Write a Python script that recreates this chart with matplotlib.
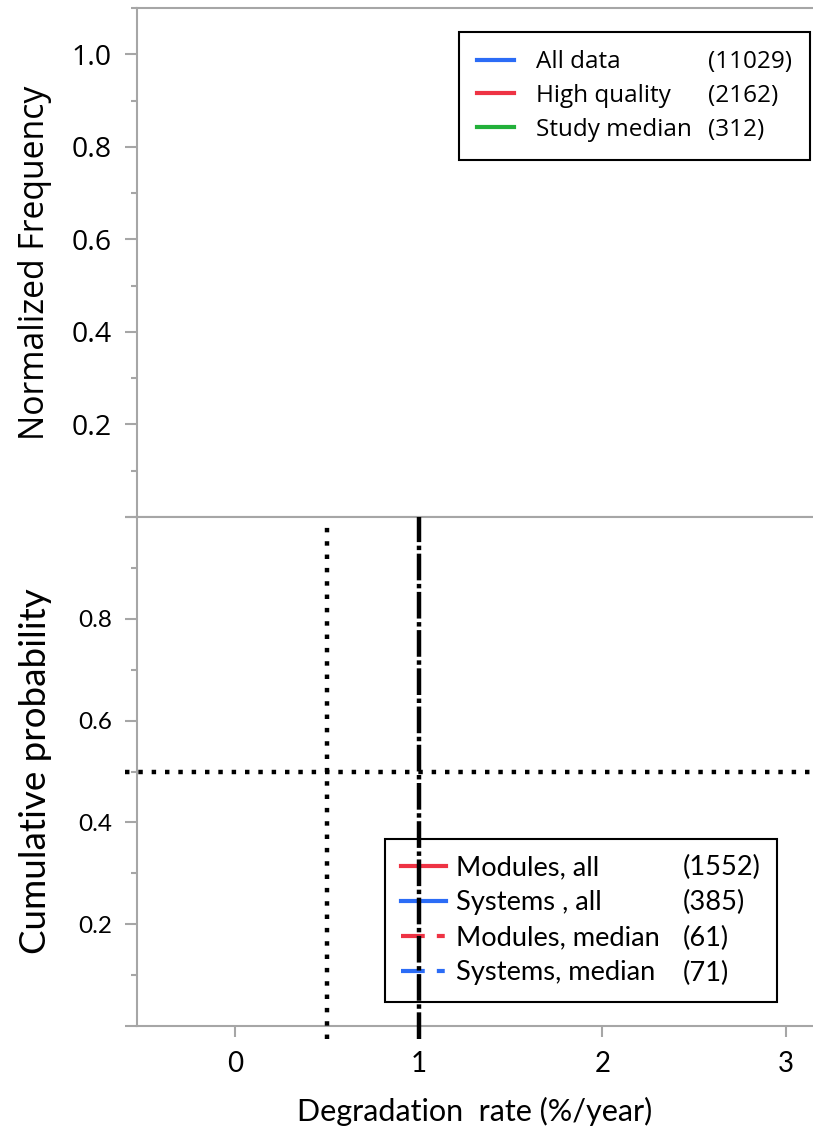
import matplotlib
matplotlib.use('Agg')
import matplotlib.pyplot as plt
from matplotlib.lines import Line2D

# legend entries of the two panels (no curves are drawn in the figure)
freq_labels = ['All data', 'High quality', 'Study median']
freq_counts = [11029, 2162, 312]
freq_colors = ['#2b6cf6', '#ee3344', '#22b03a']

cdf_labels = ['Modules, all', 'Systems , all', 'Modules, median', 'Systems, median']
cdf_counts = [1552, 385, 61, 71]
cdf_colors = ['#ee3344', '#2b6cf6', '#ee3344', '#2b6cf6']
cdf_dashed = [False, False, True, True]

# reference lines in the lower panel
median_rate = 0.5       # dotted vertical
mean_rate = 1.0         # dash-dot vertical
median_prob = 0.5       # dotted horizontal

xticks = [0, 1, 2, 3]
freq_yticks = [0, 0.2, 0.4, 0.6, 0.8, 1.0]
freq_yticklabels = ['', '0.2', '0.4', '0.6', '0.8', '1.0']
cdf_yticks = [0, 0.2, 0.4, 0.6, 0.8, 1.0]
cdf_yticklabels = ['', '0.2', '0.4', '0.6', '0.8', '']

gray = '#a6a6a6'
top_font = ['Open Sans', 'DejaVu Sans']
bot_font = ['Lato', 'DejaVu Sans']

fig = plt.figure(figsize=(8.13, 11.27), dpi=100)
ax1 = fig.add_axes([0.1685, 0.5413, 0.8315, 0.4516])
ax2 = fig.add_axes([0.1685, 0.0896, 0.8315, 0.4516], sharex=ax1)

for ax in (ax1, ax2):
    ax.spines['right'].set_visible(False)
    for s in ('left', 'top', 'bottom'):
        ax.spines[s].set_color(gray)
        ax.spines[s].set_linewidth(1.5)
    ax.tick_params(which='major', axis='y', direction='out', length=9, width=1.5,
                   color=gray, pad=9)
    ax.tick_params(which='minor', axis='y', direction='out', length=4.5, width=1.5,
                   color=gray)

ax2.set_xlim(-0.533, 3.146)
ax1.set_ylim(0, 1.1)
ax2.set_ylim(0, 1.0)

# top panel
ax1.set_yticks(freq_yticks)
ax1.set_yticklabels(freq_yticklabels, family=top_font, fontsize=20.5)
ax1.set_yticks([0.1, 0.3, 0.5, 0.7, 0.9, 1.1], minor=True)
ax1.tick_params(axis='x', bottom=False, labelbottom=False)
ax1.set_ylabel('Normalized Frequency', family=top_font, fontsize=24.3)
ax1.yaxis.set_label_coords(-0.126, 0.5)

handles = [Line2D([], [], color=c, lw=3) for c in freq_colors]
handles += [Line2D([], [], color='none') for _ in freq_counts]
labels = freq_labels + ['(%d)' % n for n in freq_counts]
leg1 = ax1.legend(handles, labels, ncol=2, loc='upper right',
                  bbox_to_anchor=(0.9956, 0.953), borderaxespad=0,
                  prop={'family': top_font, 'size': 17.5},
                  handlelength=1.52, handletextpad=0.9, columnspacing=-1.76,
                  labelspacing=0.4, borderpad=0.75, fancybox=False,
                  framealpha=1, edgecolor='black')
leg1.get_frame().set_linewidth(1.5)

# bottom panel
ax2.set_yticks(cdf_yticks)
ax2.set_yticklabels(cdf_yticklabels, family=bot_font, fontsize=17.5)
ax2.set_yticks([0.1, 0.3, 0.5, 0.7, 0.9], minor=True)
ax2.set_xticks(xticks)
ax2.set_xticklabels([str(t) for t in xticks], family=bot_font, fontsize=20)
ax2.tick_params(axis='x', direction='out', length=8, width=1.5, color=gray, pad=10)
ax2.set_ylabel('Cumulative probability', family=bot_font, fontsize=26.5)
ax2.yaxis.set_label_coords(-0.126, 0.5)
ax2.set_xlabel('Degradation  rate (%/year)', family=bot_font, fontsize=22, labelpad=14)

ax2.axvline(median_rate, ymin=-0.025, ymax=0.985, color='black', lw=3.2,
            ls=(0, (1, 2)), clip_on=False, zorder=6)
ax2.axvline(mean_rate, ymin=-0.025, ymax=1.0, color='black', lw=3.2,
            ls=(0, (6, 0.8, 1, 0.8)), clip_on=False, zorder=6)
ax2.axhline(median_prob, xmin=-0.018, xmax=1.0, color='black', lw=3.2,
            ls=(0, (1, 2)), clip_on=False, zorder=6)

handles = []
for c, d in zip(cdf_colors, cdf_dashed):
    ls = (0, (5.7, 2.9, 1.9, 2.9)) if d else '-'
    handles.append(Line2D([], [], color=c, lw=3, ls=ls))
handles += [Line2D([], [], color='none') for _ in cdf_counts]
labels = cdf_labels + ['(%d)' % n for n in cdf_counts]
leg2 = ax2.legend(handles, labels, ncol=2, loc='lower right',
                  bbox_to_anchor=(0.9467, 0.047), borderaxespad=0,
                  prop={'family': bot_font, 'size': 19.6},
                  handlelength=1.65, handletextpad=0.37, columnspacing=-1.17,
                  labelspacing=0.37, borderpad=0.6, fancybox=False,
                  framealpha=1, edgecolor='black')
leg2.get_frame().set_linewidth(1.5)
leg2.set_zorder(2)

fig.savefig('out.png', dpi=100)
